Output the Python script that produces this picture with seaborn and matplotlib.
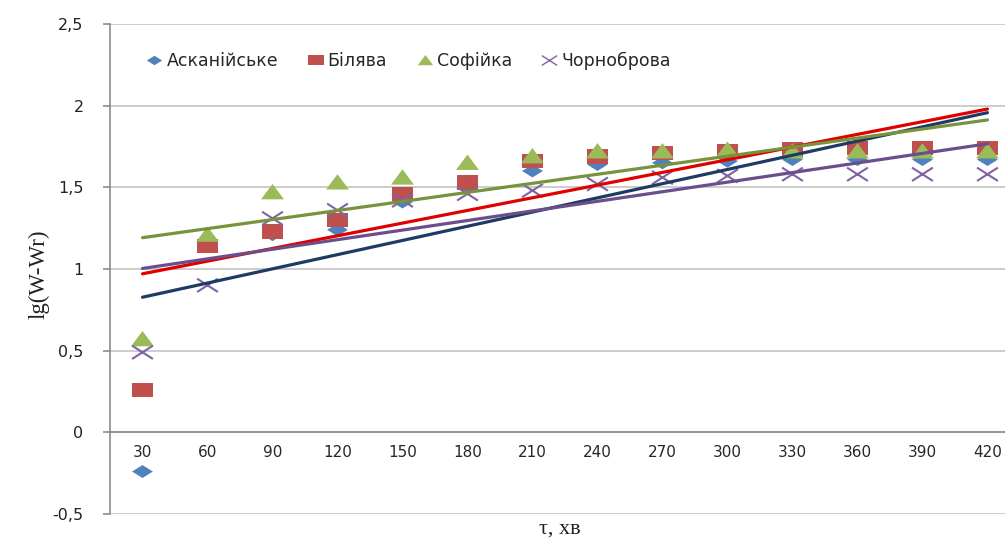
import numpy as np
import pandas as pd
import matplotlib
matplotlib.use("Agg")
import matplotlib.pyplot as plt
from matplotlib.path import Path
import seaborn as sns

times = [30, 60, 90, 120, 150, 180, 210, 240, 270, 300, 330, 360, 390, 420]
askaniiske = [-0.24, 1.14, 1.21, 1.24, 1.41, 1.50, 1.60, 1.64, 1.65, 1.66, 1.67, 1.67, 1.67, 1.67]
biliava = [0.26, 1.14, 1.23, 1.30, 1.46, 1.53, 1.66, 1.69, 1.71, 1.72, 1.73, 1.74, 1.74, 1.74]
sofiika = [0.57, 1.21, 1.47, 1.53, 1.56, 1.65, 1.69, 1.72, 1.72, 1.73, 1.72, 1.72, 1.72, 1.72]
chornobrova = [0.49, 0.90, 1.31, 1.36, 1.42, 1.46, 1.48, 1.52, 1.56, 1.57, 1.58, 1.58, 1.58, 1.58]

names = ["Асканійське", "Білява", "Софійка", "Чорноброва"]
series = [askaniiske, biliava, sofiika, chornobrova]
marker_colors = ["#4F81BD", "#C0504D", "#9BBB59", "#8064A2"]
trend_colors = ["#1F3B63", "#E00000", "#77933C", "#6B4F8C"]

# horizontally stretched markers (as in the reference)
diamond = Path([(-1, 0), (0, 0.62), (1, 0), (0, -0.62), (-1, 0)], closed=True)
square = Path([(-1, -0.7), (1, -0.7), (1, 0.7), (-1, 0.7), (-1, -0.7)], closed=True)
triangle = Path([(-1, -0.62), (1, -0.62), (0, 0.72), (-1, -0.62)], closed=True)
cross = Path([(-1, -0.64), (1, 0.64), (-1, 0.64), (1, -0.64)],
             [Path.MOVETO, Path.LINETO, Path.MOVETO, Path.LINETO])
markers = [diamond, square, triangle, cross]
msizes = [15, 15, 16.5, 15]

sns.set_theme(style="white")
plt.rcParams["font.family"] = ["DejaVu Sans"]

fig = plt.figure(figsize=(10.05, 5.41), dpi=100)
ax = fig.add_axes([110 / 1005, 27 / 541, 895 / 1005, 490 / 541])

xidx = np.arange(len(times))
df = pd.DataFrame({"x": xidx})
for i, (name, vals) in enumerate(zip(names, series)):
    df[name] = vals
    if i == 3:
        sns.scatterplot(data=df, x="x", y=name, ax=ax, marker=markers[i],
                        s=msizes[i] ** 2, facecolors="none",
                        edgecolor=marker_colors[i], linewidth=1.5, zorder=3 + i)
    else:
        sns.scatterplot(data=df, x="x", y=name, ax=ax, marker=markers[i],
                        s=msizes[i] ** 2, color=marker_colors[i],
                        edgecolor="none", linewidth=0, zorder=3 + i)

for i, (name, vals) in enumerate(zip(names, series)):
    k, b = np.polyfit(xidx, np.array(vals), 1)
    fit = pd.DataFrame({"x": xidx, "y": k * xidx + b})
    sns.lineplot(data=fit, x="x", y="y", ax=ax, color=trend_colors[i], lw=2.3,
                 zorder=10, legend=False)

ax.set_xlim(-0.5, 13.27)
ax.set_ylim(-0.5, 2.5)
yt = [-0.5, 0, 0.5, 1, 1.5, 2, 2.5]
ax.set_yticks(yt)
ax.set_yticklabels([("%g" % v).replace(".", ",") for v in yt], fontsize=11.5, color="#222222")
ax.set_xticks(xidx)
ax.set_xticklabels([str(t) for t in times], fontsize=11.5, color="#222222")

ax.grid(axis="y", color="#C8C8C8", lw=1.3)
ax.grid(axis="x", visible=False)
ax.set_axisbelow(True)
for s in ["top", "right"]:
    ax.spines[s].set_visible(False)
ax.spines["left"].set_color("#8C8C8C")
ax.spines["left"].set_linewidth(1.2)
ax.spines["bottom"].set_position(("data", 0))
ax.spines["bottom"].set_color("#8C8C8C")
ax.spines["bottom"].set_linewidth(1.2)
ax.tick_params(axis="y", length=5, width=1.2, color="#8C8C8C", pad=14, direction="out", left=True)
ax.tick_params(axis="x", length=0, pad=9, bottom=True)

ax.set_xlabel("τ, хв", family=["Liberation Serif"], fontsize=16, color="#222222")
ax.xaxis.set_label_coords(0.503, -0.012)
ax.set_ylabel("lg(W-Wr)", family=["Liberation Serif"], fontsize=16.5, color="#222222")
ax.yaxis.set_label_coords(-0.068, 0.49)

leg_markers = [
    plt.Line2D([], [], ls="none", marker=markers[i], ms=11,
               markerfacecolor=("none" if i == 3 else marker_colors[i]),
               markeredgecolor=marker_colors[i] if i == 3 else "none",
               markeredgewidth=1.0 if i == 3 else 0)
    for i in range(4)
]
fig.legend(leg_markers, names, loc="center left", bbox_to_anchor=(131 / 1005, 1 - 61 / 541),
           ncol=4, frameon=False, fontsize=12.5, handlelength=0.9, handletextpad=0.25,
           columnspacing=1.7)

fig.savefig("out.png", dpi=100)
